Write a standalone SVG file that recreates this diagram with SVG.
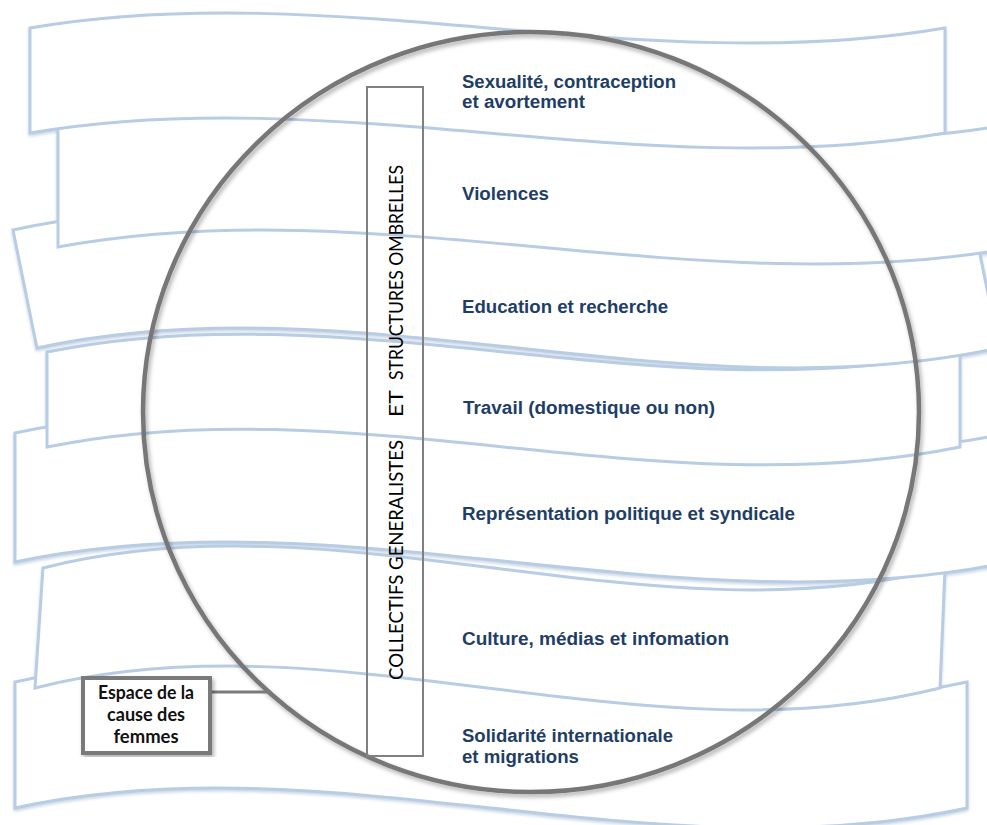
<svg xmlns="http://www.w3.org/2000/svg" width="987" height="825" viewBox="0 0 987 825">
<defs>
<filter id="bsh" x="-5%" y="-20%" width="110%" height="140%">
<feDropShadow dx="0" dy="2" stdDeviation="1.5" flood-color="#9fb4cf" flood-opacity="0.55"/>
</filter>
<filter id="csh" x="-5%" y="-5%" width="110%" height="110%">
<feDropShadow dx="2" dy="3" stdDeviation="2" flood-color="#000" flood-opacity="0.3"/>
</filter>
<style>
.band{fill:#fff;stroke:#b8cce4;stroke-width:3;stroke-linejoin:miter}
.lbl{font-family:"Liberation Sans",Arial,sans-serif;font-weight:bold;font-size:18px;fill:#1f3e66}
.vt{font-family:Lato,"Open Sans",sans-serif;font-size:19px;fill:#000}
.bx{font-family:Lato,"Open Sans",sans-serif;font-weight:bold;font-size:18px;fill:#111;text-anchor:middle}
</style>
</defs>
<rect width="987" height="825" fill="#fff"/>
<g id="bands" filter="url(#bsh)">
<path id="band7" class="band" d="M15,682 C332,613 650,751 967,682 L967,808 C650,877 332,739 15,808 Z"/>
<path id="band6" class="band" d="M43,568 C344,492 644,644 945,568 L940,688 C638,764 337,612 35,688 Z"/>
<path id="band5" class="band" d="M15,433 C347,364 678,502 1010,433 L1010,562 C678,631 347,493 15,562 Z"/>
<path id="band4" class="band" d="M47,352 C351,290 656,414 960,352 L960,447 C656,509 351,385 47,447 Z"/>
<path id="band3" class="band" d="M13,230 C334,161 654,299 975,230 L999,348 C678,417 358,279 37,348 Z"/>
<path id="band2" class="band" d="M58,123 C378,64 698,182 1018,123 L1018,247 C698,306 378,188 58,247 Z"/>
<path id="band1" class="band" d="M30,28 C335,-24 640,80 945,28 L945,133 C640,185 335,81 30,133 Z"/>
</g>
<g id="circle">
<ellipse cx="531" cy="412" rx="388" ry="380" fill="none" stroke="#777" stroke-width="4.5" filter="url(#csh)"/>
</g>
<g id="generalistes">
<rect x="367" y="87" width="56" height="669" fill="none" stroke="#808080" stroke-width="2"/>
<text class="vt" transform="rotate(-90)" x="-680" y="403" textLength="240" lengthAdjust="spacingAndGlyphs">COLLECTIFS GENERALISTES</text>
<text class="vt" transform="rotate(-90)" x="-417" y="403" textLength="27" lengthAdjust="spacingAndGlyphs">ET</text>
<text class="vt" transform="rotate(-90)" x="-380" y="403" textLength="215" lengthAdjust="spacingAndGlyphs">STRUCTURES OMBRELLES</text>
</g>
<g id="labels">
<text class="lbl" x="462" y="88" textLength="214" lengthAdjust="spacingAndGlyphs">Sexualité, contraception</text>
<text class="lbl" x="462" y="108" textLength="123" lengthAdjust="spacingAndGlyphs">et avortement</text>
<text class="lbl" x="462" y="200" textLength="87" lengthAdjust="spacingAndGlyphs">Violences</text>
<text class="lbl" x="462" y="313" textLength="206" lengthAdjust="spacingAndGlyphs">Education et recherche</text>
<text class="lbl" x="463" y="414" textLength="252" lengthAdjust="spacingAndGlyphs">Travail (domestique ou non)</text>
<text class="lbl" x="462" y="520" textLength="333" lengthAdjust="spacingAndGlyphs">Représentation politique et syndicale</text>
<text class="lbl" x="462" y="645" textLength="267" lengthAdjust="spacingAndGlyphs">Culture, médias et infomation</text>
<text class="lbl" x="462" y="742" textLength="211" lengthAdjust="spacingAndGlyphs">Solidarité internationale</text>
<text class="lbl" x="462" y="763" textLength="117" lengthAdjust="spacingAndGlyphs">et migrations</text>
</g>
<g id="connectors">
<line x1="210" y1="692" x2="271" y2="692" stroke="#7a7a7a" stroke-width="3"/>
</g>
<g id="espace">
<rect x="83" y="678" width="127" height="75" fill="#fff" stroke="#7a7a7a" stroke-width="4" filter="url(#csh)"/>
<text class="bx" x="146" y="699" textLength="96" lengthAdjust="spacingAndGlyphs">Espace de la</text>
<text class="bx" x="146" y="721" textLength="78" lengthAdjust="spacingAndGlyphs">cause des</text>
<text class="bx" x="146" y="743" textLength="65" lengthAdjust="spacingAndGlyphs">femmes</text>
</g>
</svg>
